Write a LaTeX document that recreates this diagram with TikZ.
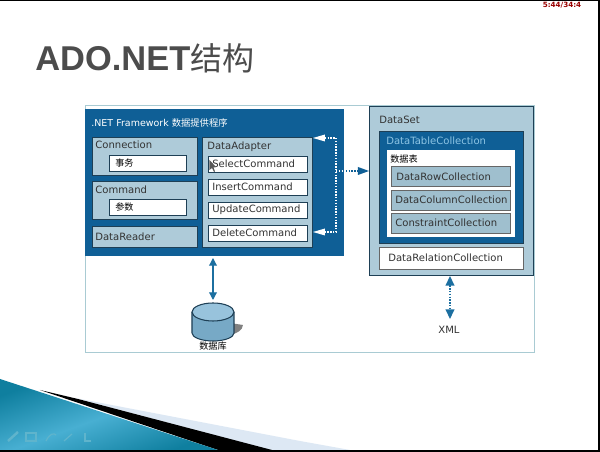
\documentclass[tikz,border=0pt]{standalone}
\usepackage{fontspec}
\setmainfont{DejaVu Sans}
\newfontfamily\cjk{Noto Sans CJK SC}
\newfontfamily\arb{Liberation Sans}
\usetikzlibrary{arrows.meta,shapes.geometric,calc}
\definecolor{dkblue}{HTML}{0F5F96}
\definecolor{midblue}{HTML}{1C6FA0}
\definecolor{pale}{HTML}{AECBD9}
\definecolor{palegrey}{HTML}{9FBFCE}
\definecolor{frameline}{HTML}{A9CBD3}
\definecolor{boxedge}{HTML}{1E3F55}
\definecolor{titlegrey}{HTML}{4C4C4C}
\definecolor{wedgelight}{HTML}{DDE8F4}
\definecolor{wedgedark}{HTML}{0F7F9F}
\definecolor{wedgemid}{HTML}{48AFD2}
\definecolor{dtctext}{HTML}{8CC4E4}
\definecolor{iconc}{HTML}{5FB4CC}
\tikzset{
  x=0.02cm,y=-0.02cm,
  lbl/.style={font=\fontsize{5.72}{7}\selectfont,text=black!80,inner sep=0pt},
  zh/.style={font=\cjk\fontsize{5.2}{6}\selectfont,text=black,inner sep=0pt},
  pbox/.style={draw=boxedge,line width=0.4pt,fill=pale},
  wbox/.style={draw=boxedge,line width=0.4pt,fill=white},
  tipboth/.style={{Triangle[length=4.4pt,width=4.4pt]}-{Triangle[length=4.4pt,width=4.4pt]}},
  dots/.style={line width=0.8pt,dash pattern=on 0.8pt off 0.8pt},
  toolicon/.style={draw=iconc,line width=0.7pt},
}
\newcommand{\pxbox}[6]{\node[#1,minimum width=#4*0.02cm,minimum height=#5*0.02cm,inner sep=0pt,outer sep=0pt,anchor=north west] (#6) at (#2,#3) {};}
\begin{document}
\begin{tikzpicture}
\useasboundingbox (0,0) rectangle (600,452);
\fill[white] (0,0) rectangle (600,452);
% slide edges
\fill[black] (0,0) rectangle (600,1.5);
\fill[black] (598.5,0) rectangle (600,452);
% bottom wedge
\fill[wedgelight] (75,398) -- (300,441) -- (350,450) -- (270,450) -- cycle;
\fill[black] (40,390) -- (78,399) -- (272,450) -- (218,450) -- cycle;
\shade[left color=wedgedark,right color=wedgedark,middle color=wedgemid,shading angle=20] (0,379) -- (218,450) -- (0,450) -- cycle;
\fill[black] (0,450) rectangle (600,452);
% faint toolbar icons
\draw[toolicon,line width=1.4pt] (8,441) -- (18,432);
\draw[toolicon] (26,433) rectangle (36,441);
\draw[toolicon] (46,441) .. controls (50,433) and (54,433) .. (56,435);
\draw[toolicon] (64,441) -- (72,434);
\draw[toolicon] (85,433) -- (85,441) -- (91,441);
% timer
\node[font=\fontsize{4.1}{5}\selectfont\bfseries,text=red!60!black,inner sep=0pt] (timer) at (562,5) {5:44/34:4};
% title
\node[anchor=west,inner sep=0pt,text=titlegrey] (title) at (35,58) {\arb\bfseries\fontsize{19.6}{20}\selectfont ADO.NET\cjk\mdseries\fontsize{18.2}{20}\selectfont 结构};
% frame
\draw[frameline,line width=0.5pt] (85,105) rectangle (534,352);
% provider
\pxbox{fill=dkblue,draw=dkblue}{85}{109}{258}{146}{provider}
\node[lbl,text=white,anchor=west,font=\fontsize{5.4}{6}\selectfont] (ptitle) at (91,123) {.NET Framework \cjk\fontsize{5.3}{6}\selectfont 数据提供程序};
\pxbox{pbox}{92}{137}{105}{38}{conn}
\node[lbl,anchor=west] (connl) at (95,145) {Connection};
\pxbox{wbox}{109}{155}{77}{16}{tx}
\node[zh,anchor=west] (txl) at (115,163) {事务};
\pxbox{pbox}{92}{181}{105}{38}{cmd}
\node[lbl,anchor=west] (cmdl) at (95,189.5) {Command};
\pxbox{wbox}{109}{199}{77}{16}{par}
\node[zh,anchor=west] (parl) at (115,207) {参数};
\pxbox{pbox}{92}{226}{105}{21}{reader}
\node[lbl,anchor=west] (readerl) at (95,236.5) {DataReader};
\pxbox{pbox}{202}{137}{110}{110}{adapter}
\node[lbl,anchor=west] (adl) at (207,146.5) {DataAdapter};
\pxbox{wbox}{208}{156}{99}{16}{sel}
\node[lbl,anchor=west] (sell) at (212,164) {SelectCommand};
\pxbox{wbox}{208}{179}{99}{16}{ins}
\node[lbl,anchor=west] (insl) at (212,187) {InsertCommand};
\pxbox{wbox}{208}{202}{99}{16}{upd}
\node[lbl,anchor=west] (updl) at (212,210) {UpdateCommand};
\pxbox{wbox}{208}{225}{99}{16}{del}
\node[lbl,anchor=west] (dell) at (212,233) {DeleteCommand};
% cursor
\fill[black!65] (209.5,160) -- (209.5,170) -- (212,168) -- (214,172) -- (215,171.5) -- (213.5,167.5) -- (216,167) -- cycle;
% dataset
\pxbox{pbox}{369}{106}{164}{169}{dataset}
\node[lbl,anchor=west] (dsl) at (379,120) {DataSet};
\pxbox{fill=dkblue,draw=boxedge,line width=0.4pt}{379}{131}{144}{112}{dtc}
\node[lbl,text=dtctext,anchor=west] (dtcl) at (386,141) {DataTableCollection};
\pxbox{fill=white,draw=none}{387}{150}{128}{87}{dtw}
\node[zh,anchor=west] (dtwl) at (390,159) {数据表};
\pxbox{fill=palegrey,draw=black!60,line width=0.5pt}{391}{166}{119}{20}{rowc}
\node[lbl,anchor=west] (rowl) at (396,176.5) {DataRowCollection};
\pxbox{fill=palegrey,draw=black!60,line width=0.5pt}{391}{190}{119}{20}{colc}
\node[lbl,anchor=west] (coll) at (395,200) {DataColumnCollection};
\pxbox{fill=palegrey,draw=black!60,line width=0.5pt}{391}{213}{119}{20}{conc}
\node[lbl,anchor=west] (conl) at (395,223) {ConstraintCollection};
\pxbox{fill=white,draw=black!60,line width=0.4pt}{379}{247}{144}{22}{relc}
\node[lbl,anchor=west] (rell) at (388,258) {DataRelationCollection};
% dotted adapter link
\coordinate (aTop) at (adapter.east |- 0,138);
\coordinate (aBot) at (adapter.east |- 0,232);
\coordinate (junc) at (336,171);
\draw[white,dots] ($(aTop)+(10,0)$) -- (336,138) -- (336,232) -- ($(aBot)+(10,0)$);
\fill[white] ($(aTop)+(1,0)$) -- ++(12,-3.5) -- ++(0,7) -- cycle;
\fill[white] ($(aBot)+(1,0)$) -- ++(12,-3.5) -- ++(0,7) -- cycle;
\draw[white,dots] (junc) -- (provider.east |- junc);
\draw[dkblue,dots] (provider.east |- junc) -- (360,171);
\fill[dkblue] (dataset.west |- junc) -- ++(-11,-4) -- ++(0,8) -- cycle;
% db
\fill[black!50] (230,323) -- (243,325) .. controls (243,330) and (236,334) .. (230,335) -- cycle;
\coordinate (db) at (213,303);
\draw[boxedge,line width=0.6pt,fill=midblue!60!white] (192,312) -- (192,333) arc[start angle=180,end angle=360,x radius=21,y radius=-8] -- (234,312);
\draw[boxedge,line width=0.6pt,fill=cyan!20!pale] (213,312) ellipse[x radius=21,y radius=-9];
\draw[midblue,line width=0.7pt,tipboth] (provider.south -| db) ++(0,3) -- (213,300);
% xml
\node[lbl] (xml) at (449,330) {XML};
\draw[midblue,dots,{Triangle[length=5.5pt,width=5pt]}-{Triangle[length=5.5pt,width=5pt]}] (450,276) -- (450,319);
\node[zh] (dbl) at (213,346) {数据库};
\end{tikzpicture}
\end{document}
